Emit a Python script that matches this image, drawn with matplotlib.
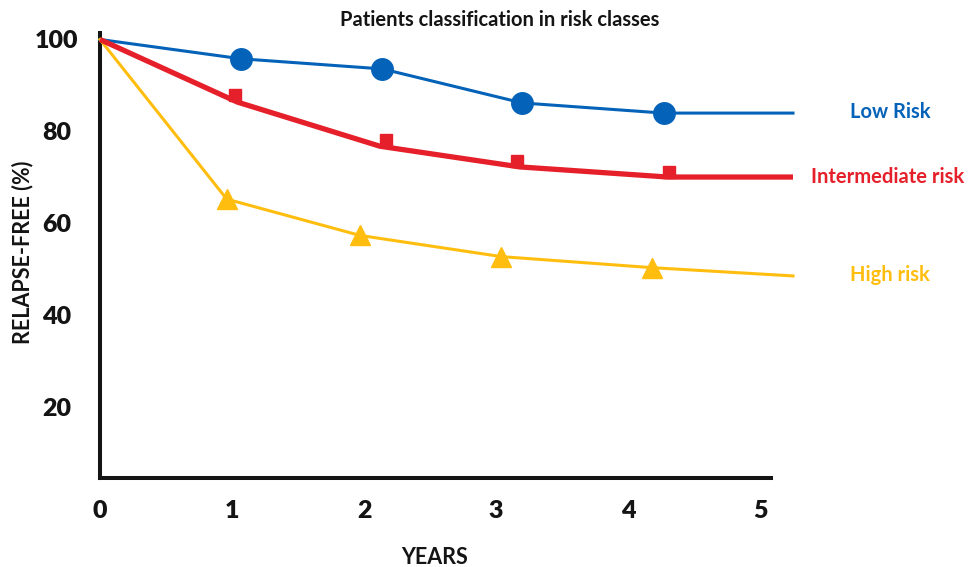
import matplotlib
matplotlib.use("Agg")
import matplotlib.pyplot as plt

plt.rcParams['font.family'] = ['Lato', 'DejaVu Sans']

# Relapse-free survival (%) by risk class over follow-up years
low_x = [0, 1.07, 2.14, 3.20, 4.27, 5.25]
low_y = [100, 95.8, 93.6, 86.2, 84.0, 84.0]

int_x = [0, 1.04, 2.12, 3.18, 4.30, 5.25]
int_y = [100, 86.4, 76.8, 72.3, 70.1, 70.1]
int_mark_x = [1.02, 2.17, 3.16, 4.31]
int_mark_y = [87.9, 78.2, 73.6, 71.2]

high_x = [0, 0.96, 1.97, 3.04, 4.18, 5.25]
high_y = [100, 65.3, 57.4, 52.8, 50.4, 48.6]

x_ticks = [0, 1, 2, 3, 4, 5]
y_ticks = [20, 40, 60, 80, 100]

BLUE = '#0462B8'
RED = '#E5202A'
GOLD = '#FFBE0F'
INK = '#141414'

fig = plt.figure(figsize=(9.71, 5.67), dpi=100)
ax = fig.add_axes([100 / 971, 1 - 478 / 567, 693 / 971, (478 - 33) / 567])
ax.set_xlim(0, 5.25)
ax.set_ylim(4.67, 101.41)

# Low risk: thin blue line with large circles
ax.plot(low_x, low_y, color=BLUE, lw=2.2, zorder=3, clip_on=False)
ax.plot(low_x[1:-1], low_y[1:-1], 'o', color=BLUE, ms=15.5, zorder=4, clip_on=False)

# Intermediate risk: thick red line over small squares
ax.plot(int_mark_x, int_mark_y, 's', color=RED, ms=8, zorder=3, clip_on=False)
ax.plot(int_x, int_y, color=RED, lw=3.8, zorder=4, clip_on=False,
        solid_capstyle='butt')

# High risk: gold line with triangles
ax.plot(high_x, high_y, color=GOLD, lw=2.2, zorder=3, clip_on=False)
ax.plot(high_x[1:-1], high_y[1:-1], '^', color=GOLD, ms=14.5, zorder=4, clip_on=False)

for s in ['top', 'right']:
    ax.spines[s].set_visible(False)
for s in ['left', 'bottom']:
    ax.spines[s].set_linewidth(2.9)
    ax.spines[s].set_color(INK)
ax.spines['bottom'].set_bounds(0, 5.08)
ax.spines['left'].set_capstyle('projecting')

ax.set_xticks(x_ticks)
ax.set_yticks(y_ticks)
ax.set_xticklabels([str(v) for v in x_ticks], fontsize=18, fontweight='heavy', color=INK)
ax.set_yticklabels([str(v) for v in y_ticks], fontsize=18, fontweight='heavy', color=INK)
ax.tick_params(axis='x', length=0, pad=16)
ax.tick_params(axis='y', length=0, pad=31.5)
for lab in ax.get_yticklabels():
    lab.set_horizontalalignment('center')

fig.text(500 / 971, 1 - 20 / 567, 'Patients classification in risk classes',
         ha='center', va='center', fontsize=14.5, fontweight='bold', color=INK)
fig.text(435 / 971, 1 - 557 / 567, 'YEARS', ha='center', va='center',
         fontsize=15.5, fontweight='bold', color=INK)
fig.text(23 / 971, 1 - 252 / 567, 'RELAPSE-FREE (%)', ha='center', va='center',
         rotation=90, fontsize=15.5, fontweight='bold', color=INK)

fig.text(890 / 971, 1 - 112 / 567, 'Low Risk', ha='center', va='center',
         fontsize=14.5, fontweight='bold', color=BLUE)
fig.text(888 / 971, 1 - 177 / 567, 'Intermediate risk', ha='center', va='center',
         fontsize=14.5, fontweight='bold', color=RED)
fig.text(890 / 971, 1 - 275 / 567, 'High risk', ha='center', va='center',
         fontsize=14.5, fontweight='bold', color=GOLD)

fig.savefig('out.png', dpi=100)
